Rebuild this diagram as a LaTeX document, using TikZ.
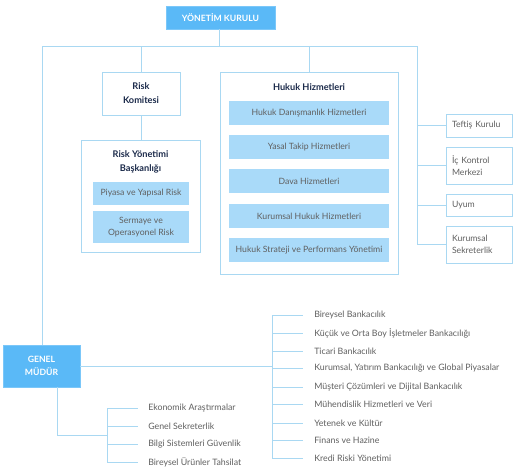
\documentclass[tikz,border=0pt]{standalone}
\usepackage{fontspec}
\setmainfont{Lato}
\definecolor{hdr}{HTML}{5AB9F7}
\definecolor{inner}{HTML}{A9DAF9}
\definecolor{ln}{HTML}{A9D8F2}
\definecolor{navy}{HTML}{1B2A4A}
\definecolor{txt}{HTML}{606060}
\tikzset{
  hdrbox/.style={fill=hdr, draw=hdr!80!white, text=white, font=\fontsize{6.5}{9.8}\selectfont\bfseries, align=center, inner sep=0pt},
  wbox/.style={fill=white, draw=ln, line width=0.6pt, inner sep=0pt},
  innerbox/.style={fill=inner, draw=none, text=txt, font=\fontsize{6.5}{9.5}\selectfont, align=center, inner sep=0pt},
  ttl/.style={text=navy, font=\fontsize{6.9}{10.5}\selectfont\bfseries, align=center, inner sep=0pt},
  rbox/.style={fill=white, draw=ln, line width=0.6pt, text=txt, font=\fontsize{6.5}{9}\selectfont, align=left, inner sep=0pt, minimum width=66*0.75pt, text width=54*0.75pt},
  item/.style={text=txt, font=\fontsize{6.6}{9}\selectfont, anchor=west, inner sep=0pt},
  conn/.style={draw=ln, line width=0.6pt},
}
\begin{document}
\begin{tikzpicture}[x=0.75pt,y=-0.75pt]
\useasboundingbox[fill=white] (0,0) rectangle (516,472);
% top
\node[hdrbox, minimum width=109*0.75pt, minimum height=23*0.75pt] (yk) at (220.5,17.5) {YÖNETİM KURULU};
\coordinate (hl) at (42,46);
\coordinate (hr) at (417,46);
\coordinate (hm) at (219,46);
\coordinate (hrk) at (141,46);
\coordinate (hhh) at (309,46);
\draw[conn] (yk.south -| hm) -- (hm);
\draw[conn] (hl) -- (hr);
% risk
\node[wbox, ttl, minimum width=78*0.75pt, minimum height=43*0.75pt] (rk) at (141,93.5) {Risk\\Komitesi};
\draw[conn] (hrk) -- (rk.north);
\node[wbox, minimum width=119*0.75pt, minimum height=112*0.75pt] (rybbox) at (140.5,196) {};
\node[ttl] (ryb) at (140.5,162) {Risk Yönetimi\\Başkanlığı};
\draw[conn] (rk.south) -- (rybbox.north -| rk.south);
\node[innerbox, minimum width=96*0.75pt, minimum height=23*0.75pt] (piy) at (141,193.5) {Piyasa ve Yapısal Risk};
\node[innerbox, minimum width=96*0.75pt, minimum height=32*0.75pt] (ser) at (141,227) {Sermaye ve\\Operasyonel Risk};
% hukuk
\node[wbox, minimum width=178*0.75pt, minimum height=202*0.75pt] (hh) at (309,173) {};
\draw[conn] (hhh) -- (hh.north);
\node[ttl] (hht) at (309,87) {Hukuk Hizmetleri};
\node[innerbox, minimum width=160*0.75pt, minimum height=24*0.75pt] (h1) at (309,113) {Hukuk Danışmanlık Hizmetleri};
\node[innerbox, minimum width=160*0.75pt, minimum height=24*0.75pt] (h2) at (309,147) {Yasal Takip Hizmetleri};
\node[innerbox, minimum width=160*0.75pt, minimum height=24*0.75pt] (h3) at (309,181) {Dava Hizmetleri};
\node[innerbox, minimum width=160*0.75pt, minimum height=24*0.75pt] (h4) at (309,216) {Kurumsal Hukuk Hizmetleri};
\node[innerbox, minimum width=160*0.75pt, minimum height=24*0.75pt] (h5) at (309,250) {Hukuk Strateji ve Performans Yönetimi};
% right boxes
\node[rbox, minimum height=23*0.75pt] (tk) at (479,125.5) {Teftiş Kurulu};
\node[rbox, minimum height=37*0.75pt] (ik) at (479,165.5) {İç Kontrol\\Merkezi};
\node[rbox, minimum height=22*0.75pt] (uy) at (479,205) {Uyum};
\node[rbox, minimum height=37*0.75pt] (ks) at (479,244.5) {Kurumsal\\Sekreterlik};
\coordinate (rb) at (417,245);
\draw[conn] (hr) -- (rb);
\foreach \n in {tk,ik,uy,ks}{\draw[conn] (\n.west -| hr) -- (\n.west);}
% genel mudur
\node[hdrbox, minimum width=77*0.75pt, minimum height=42*0.75pt] (gm) at (41.5,366) {GENEL\\MÜDÜR};
\draw[conn] (hl) -- (gm.north -| hl);
% right list
\coordinate (rt) at (272,315);
\coordinate (rbt) at (272,458);
\draw[conn] (gm.east) -- (gm.east -| rt);
\draw[conn] (rt) -- (rbt);
\foreach \y/\t [count=\i] in {315/Bireysel Bankacılık,333/Küçük ve Orta Boy İşletmeler Bankacılığı,351/Ticari Bankacılık,368/{Kurumsal, Yatırım Bankacılığı ve Global Piyasalar},387/Müşteri Çözümleri ve Dijital Bankacılık,404/Mühendislik Hizmetleri ve Veri,423/Yetenek ve Kültür,440/Finans ve Hazine,458/Kredi Riski Yönetimi}{
  \node[item] (r\i) at (314,\y) {\t};
  \coordinate (rs\i) at (303,\y);
  \draw[conn] (rs\i -| rt) -- (rs\i);
}
% lower left list
\coordinate (gb) at (57,435);
\coordinate (lt) at (107,408);
\coordinate (lb) at (107,462);
\draw[conn] (gm.south -| gb) -- (gb) -- (gb -| lt);
\draw[conn] (lt) -- (lb);
\foreach \y/\t [count=\i] in {408/Ekonomik Araştırmalar,426/Genel Sekreterlik,444/Bilgi Sistemleri Güvenlik,462/Bireysel Ürünler Tahsilat}{
  \node[item] (l\i) at (148,\y) {\t};
  \coordinate (ls\i) at (138,\y);
  \draw[conn] (ls\i -| lt) -- (ls\i);
}
\end{tikzpicture}
\end{document}
